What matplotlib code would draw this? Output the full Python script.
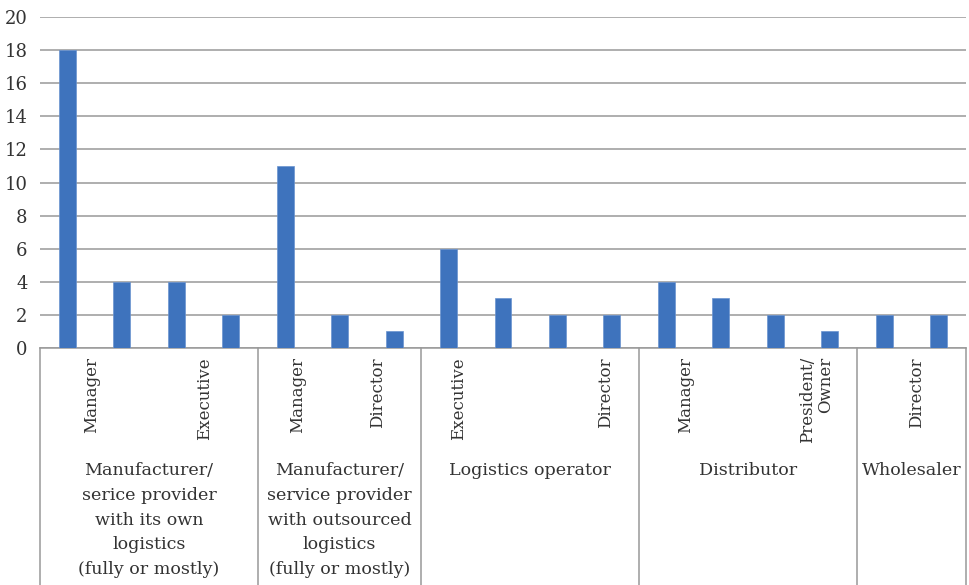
import matplotlib
matplotlib.use("Agg")
import matplotlib.pyplot as plt
import matplotlib.transforms as mtransforms

# ---- data ----
groups = [
    "Manufacturer/\nserice provider\nwith its own\nlogistics\n(fully or mostly)",
    "Manufacturer/\nservice provider\nwith outsourced\nlogistics\n(fully or mostly)",
    "Logistics operator",
    "Distributor",
    "Wholesaler",
]
group_sizes = [4, 3, 4, 4, 2]
values = [18, 4, 4, 2,
          11, 2, 1,
          6, 3, 2, 2,
          4, 3, 2, 1,
          2, 2]
sub_labels = ["Manager", "Executive",
              "Manager", "Director",
              "Executive", "Director",
              "Manager", "President/\nOwner",
              "Director"]
y_ticks = [0, 2, 4, 6, 8, 10, 12, 14, 16, 18, 20]

# ---- layout (positions of the shown sub-labels, in category units) ----
sub_label_x = [0.45, 2.53, 4.23, 5.70, 7.19, 9.89, 11.35, 13.76, 15.6]

W, H = 969, 585
fig = plt.figure(figsize=(W / 100, H / 100), dpi=100)
ax = fig.add_axes([40 / W, 1 - 348 / H, (966 - 40) / W, (348 - 17) / H])

font = "DejaVu Serif"
tcol = "#333333"
gcol = "#999999"
bar_col = "#3E73BD"

x = list(range(len(values)))
ax.bar(x, values, width=0.31, color=bar_col, edgecolor="#6a93d0", linewidth=0.5, zorder=3)

ax.set_xlim(-0.5, len(values) - 0.5)
ax.set_ylim(0, 20)
ax.set_yticks(y_ticks)
ax.set_yticklabels([str(v) for v in y_ticks], fontfamily=font, fontsize=13, color=tcol)
ax.tick_params(axis="y", length=0, pad=9)
ax.set_xticks([])
ax.yaxis.grid(True, color=gcol, linewidth=1.1, zorder=0)
for s in ["top", "right", "left"]:
    ax.spines[s].set_visible(False)
ax.spines["bottom"].set_color(gcol)
ax.spines["bottom"].set_linewidth(1.1)

trans = mtransforms.blended_transform_factory(ax.transData, fig.transFigure)

# group separators
edges = [-0.5]
for g in group_sizes:
    edges.append(edges[-1] + g)
for e in edges:
    ax.plot([e, e], [1 - 348 / H, 0], transform=trans, color=gcol, linewidth=1.1,
            clip_on=False)

# sub labels
for lbl, xp in zip(sub_labels, sub_label_x):
    ax.text(xp, 1 - 357 / H, lbl, transform=trans, rotation=90, ha="center", va="top",
            fontfamily=font, fontsize=12, color=tcol, linespacing=1.1,
            multialignment="right")

# group labels
for i, g in enumerate(groups):
    c = (edges[i] + edges[i + 1]) / 2
    ax.text(c, 1 - 462 / H, g, transform=trans, ha="center", va="top",
            fontfamily=font, fontsize=12.6, color=tcol, linespacing=1.6)

fig.savefig("out.png", dpi=100)
